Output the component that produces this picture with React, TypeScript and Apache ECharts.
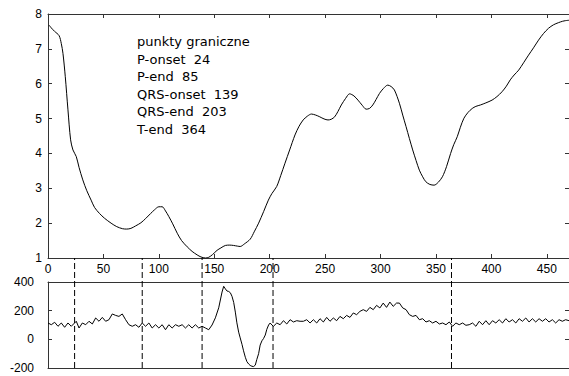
import React, { useEffect, useRef } from "react";
import * as echarts from "echarts";

// Top panel: smooth curve (x, value)
const topCurve: [number, number][] = [
  [1, 7.68], [3, 7.6], [6, 7.5], [10, 7.38], [12, 7.15], [13.5, 6.87], [15.6, 6.2], [18, 5.25],
  [20.4, 4.39], [22.5, 4.1], [25.5, 3.91], [28, 3.6], [31.4, 3.24], [35, 2.93], [38.9, 2.66],
  [42, 2.45], [46.4, 2.28], [51, 2.14], [56.9, 2.0], [62, 1.9], [67.3, 1.84], [71, 1.83],
  [74.8, 1.85], [79, 1.92], [83.8, 2.01], [88, 2.13], [92.7, 2.28], [96, 2.38], [100, 2.47],
  [103, 2.47], [106, 2.35], [109, 2.19], [112.5, 1.98], [116.6, 1.71], [120.5, 1.5],
  [125.6, 1.32], [130, 1.19], [134.5, 1.09], [138, 1.03], [142, 1.0], [145, 1.02],
  [148.5, 1.1], [152.5, 1.22], [156, 1.29], [160, 1.36], [164, 1.37], [167.4, 1.36],
  [171, 1.34], [173.4, 1.33], [177, 1.4], [182.4, 1.54], [186, 1.75], [190, 2.0],
  [194.5, 2.33], [198.8, 2.66], [202, 2.85], [206.3, 3.05], [210, 3.37], [213.8, 3.72],
  [218, 4.1], [222.8, 4.53], [226.5, 4.78], [230.2, 4.96], [234, 5.07], [237.7, 5.13],
  [241.5, 5.1], [245.2, 5.05], [249, 4.99], [252.6, 4.96], [255.5, 4.98], [258.6, 5.05],
  [261.5, 5.2], [264.6, 5.39], [268.5, 5.58], [272.1, 5.71], [276, 5.65], [279.6, 5.53],
  [283.5, 5.38], [287, 5.27], [290, 5.29], [293, 5.39], [296, 5.55], [299, 5.72],
  [302.5, 5.86], [306.5, 5.96], [309.5, 5.92], [312.5, 5.82], [317, 5.44], [320, 5.1],
  [323, 4.77], [326, 4.43], [329, 4.1], [332, 3.8], [335, 3.52], [338, 3.33], [340.8, 3.19],
  [344.5, 3.11], [348.3, 3.09], [352, 3.17], [355.8, 3.33], [359.5, 3.62], [363.2, 4.0],
  [366, 4.25], [369.2, 4.48], [372, 4.75], [375.2, 5.01], [379, 5.18], [382.7, 5.29],
  [386, 5.35], [390.1, 5.39], [395, 5.45], [400.6, 5.53], [405, 5.63], [409.6, 5.77],
  [413.5, 5.93], [417, 6.11], [420.5, 6.25], [424.6, 6.39], [429, 6.6], [433.5, 6.82],
  [438, 7.03], [442.5, 7.25], [447, 7.44], [451.5, 7.59], [456, 7.69], [460.4, 7.75],
  [464, 7.79], [467, 7.81], [470, 7.82],
];

// Bottom panel: noisy signal (x, value)
const signal: [number, number][] = [
  [0, 114], [3, 102], [6, 119], [9, 91], [12, 114], [15, 84], [18, 114], [21, 91], [25.5, 126],
  [28, 79], [31, 114], [34, 102], [37, 126], [40, 107], [43, 149], [46, 126], [49, 153],
  [52, 126], [55, 137], [58, 177], [61, 167], [64, 160], [67, 177], [70, 137], [73, 102],
  [76, 91], [79, 102], [82, 84], [85, 114], [88, 91], [91, 114], [94, 79], [97, 102],
  [100, 79], [103, 102], [106, 67], [109, 102], [112, 79], [115, 102], [118, 91], [121, 102],
  [124, 79], [127, 102], [130, 79], [133, 102], [136, 79], [139, 91], [142, 79], [145, 67],
  [148, 100], [151, 150], [154, 220], [157, 330], [158.5, 370], [160, 352], [161.5, 337],
  [163, 334], [164.5, 325], [166, 300], [167.5, 258], [169, 190], [170.4, 115], [172, 50],
  [173.4, 10], [175, -35], [176.4, -80], [178, -125], [179.4, -155], [181, -172],
  [182.4, -182], [184, -188], [185.4, -190], [187, -180], [188.4, -140], [190, -100],
  [191.4, -40], [193, -10], [194.4, 5], [196, 30], [197.4, 70], [199, 100], [200.4, 114],
  [202, 100], [203.4, 91], [206.4, 114], [209.4, 102], [212.4, 130], [215.4, 107],
  [218.4, 137], [221.4, 121], [224.4, 130], [227.4, 126], [230.4, 126], [233.4, 137],
  [236.4, 114], [239.4, 137], [242.4, 114], [245.4, 144], [248.4, 121], [251.4, 153],
  [254.4, 126], [257.4, 149], [260.4, 130], [263.4, 160], [266.4, 144], [269.4, 167],
  [272.4, 153], [275.4, 184], [278.4, 172], [281.4, 195], [284.4, 207], [287.4, 195],
  [290.4, 223], [293.4, 207], [296.4, 237], [299.4, 219], [302.4, 253], [305.4, 223],
  [308.4, 260], [311.4, 230], [314.4, 253], [317, 253], [320, 219], [323, 207], [326, 172],
  [329, 160], [332, 167], [335, 137], [338, 144], [341, 121], [344, 130], [347, 114],
  [350, 126], [353, 107], [356, 114], [359, 102], [362, 121], [365, 91], [368, 114],
  [371, 102], [374, 114], [377, 98], [380, 102], [383, 114], [386, 91], [389, 126],
  [392, 102], [395, 130], [398, 102], [401, 130], [404, 114], [407, 137], [410, 114],
  [413, 144], [416, 121], [419, 137], [422, 114], [425, 144], [428, 126], [431, 149],
  [434, 121], [437, 144], [440, 121], [443, 144], [446, 126], [449, 144], [452, 121],
  [455, 137], [458, 114], [461, 137], [464, 126], [467, 137], [470, 130],
];

const boundaryNames = ["P-onset", "P-end", "QRS-onset", "QRS-end", "T-end"];
const boundaryValues = [24, 85, 139, 203, 364];
const annotationTitle = "punkty graniczne";

const xMin = 0;
const xMax = 470;
const xInterval = 50;
const topYMin = 1;
const topYMax = 8;
const bottomYMin = -200;
const bottomYMax = 400;
const bottomYInterval = 200;

export default function App() {
  const ref = useRef<HTMLDivElement>(null);

  useEffect(() => {
    if (!ref.current) return;
    const chart = echarts.init(ref.current, undefined, { renderer: "svg" });
    const axisColor = "#333";
    const labelStyle = { color: "#000", fontSize: 12, fontFamily: "Liberation Sans, Arial, sans-serif" };
    const L = 48;
    const W = 524;

    const mkX = (grid: number, pos: "top" | "bottom", labels: boolean, ticks: boolean) => ({
      type: "value",
      gridIndex: grid,
      position: pos,
      min: xMin,
      max: xMax,
      interval: xInterval,
      axisLine: { show: true, onZero: false, lineStyle: { color: axisColor, width: 1 } },
      axisTick: { show: ticks, inside: true, length: 4, lineStyle: { color: axisColor } },
      axisLabel: { show: labels, margin: 5, showMaxLabel: false, ...labelStyle },
      splitLine: { show: false },
    });
    const mkY = (grid: number, pos: "left" | "right", min: number, max: number, interval: number, labels: boolean, margin: number) => ({
      type: "value",
      gridIndex: grid,
      position: pos,
      min,
      max,
      interval,
      axisLine: { show: true, onZero: false, lineStyle: { color: axisColor, width: 1 } },
      axisTick: { show: true, inside: true, length: 4, lineStyle: { color: axisColor } },
      axisLabel: { show: labels, margin, ...labelStyle },
      splitLine: { show: false },
    });

    const option: any = {
      animation: false,
      backgroundColor: "#fff",
      grid: [
        { left: L, width: W, top: 14, height: 244 },
        { left: L, width: W, top: 282, height: 86 },
        { left: L, width: W, top: 258, height: 110 },
      ],
      xAxis: [
        mkX(0, "bottom", true, true),
        mkX(0, "top", false, true),
        mkX(1, "bottom", false, false),
        mkX(1, "top", false, false),
        { type: "value", gridIndex: 2, min: xMin, max: xMax, show: false },
      ],
      yAxis: [
        mkY(0, "left", topYMin, topYMax, 1, true, 6),
        mkY(0, "right", topYMin, topYMax, 1, false, 6),
        mkY(1, "left", bottomYMin, bottomYMax, bottomYInterval, true, 14),
        mkY(1, "right", bottomYMin, bottomYMax, bottomYInterval, false, 14),
        { type: "value", gridIndex: 2, min: 0, max: 1, show: false },
      ],
      graphic: [
        {
          type: "text",
          left: 137,
          top: 33,
          style: {
            text: [annotationTitle, ...boundaryNames.map((n, i) => `${n}  ${boundaryValues[i]}`)].join("\n"),
            font: '13px "DejaVu Sans"',
            fill: "#000",
            lineHeight: 17.5,
          },
        },
      ],
      series: [
        {
          type: "line",
          xAxisIndex: 0,
          yAxisIndex: 0,
          data: topCurve,
          showSymbol: false,
          smooth: 0.3,
          lineStyle: { color: "#000", width: 1 },
        },
        {
          type: "line",
          xAxisIndex: 2,
          yAxisIndex: 2,
          data: signal,
          showSymbol: false,
          lineStyle: { color: "#000", width: 1 },
        },
        ...boundaryValues.map((b) => ({
          type: "line",
          xAxisIndex: 4,
          yAxisIndex: 4,
          data: [[b, 0], [b, 1]],
          showSymbol: false,
          z: 5,
          lineStyle: { color: "#000", width: 1, type: [6, 3] },
        })),
      ],
    };
    chart.setOption(option);
    return () => chart.dispose();
  }, []);

  return (
    <div
      ref={ref}
      style={{ position: "fixed", left: 0, top: 0, width: 569, height: 376, background: "#fff" }}
    />
  );
}
